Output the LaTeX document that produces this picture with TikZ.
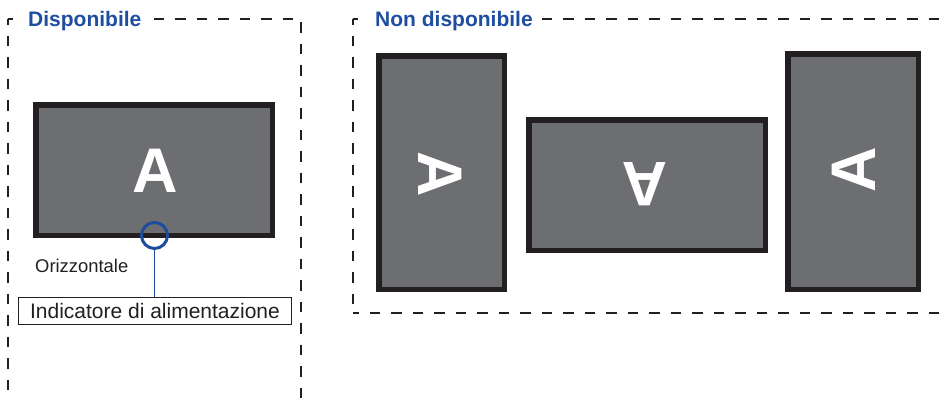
\documentclass[tikz,border=0pt]{standalone}
\usepackage{fontspec}
\setmainfont{Liberation Sans}
\definecolor{dk}{HTML}{231F20}
\definecolor{scr}{HTML}{6D6E71}
\definecolor{ttl}{HTML}{1F4EA0}
\definecolor{led}{HTML}{1D4C9C}
\begin{document}
\begin{tikzpicture}[x=1pt,y=-1pt,
  frame/.style={draw=dk,line width=2.6pt,dash pattern=on 10.5pt off 11pt},
  monitor/.style={draw=dk,fill=scr,line width=5.5pt,rectangle,inner sep=0pt},
  letter/.style={text=white,font=\fontsize{63}{63}\selectfont\bfseries,inner sep=0pt},
  titletext/.style={text=ttl,font=\fontsize{21}{25}\selectfont\bfseries,inner sep=0pt,anchor=base west},
  lbl/.style={text=dk,inner sep=0pt}]
\useasboundingbox (0,0) rectangle (949,400);
\clip (0,0) rectangle (949,400);
% dashed frames
\draw[frame,dash phase=5pt] (8,19) -- (8,410);
\draw[frame,dash phase=5pt] (8,19) -- (301,19) -- (301,410);
\draw[frame,dash phase=5pt] (353,19) -- (353,313);
\draw[frame,dash phase=5pt] (353,19) -- (960,19);
\draw[frame,dash phase=5pt] (353,313) -- (960,313);
% title backgrounds
\fill[white] (13,8) rectangle (146,31);
\fill[white] (358,8) rectangle (537,31);
\node[titletext] (t1) at (28,26.7) {Disponibile};
\node[titletext] (t2) at (375,26.5) {Non disponibile};
% monitors
\node[monitor,minimum width=236.5pt,minimum height=130.5pt] (m0) at (154,170) {};
\node[letter] (a0) at (155,171) {A};
\node[monitor,minimum width=125.5pt,minimum height=233.5pt] (m1) at (441.5,172.5) {};
\node[letter,rotate=-90] (a1) at (440,174) {A};
\node[monitor,minimum width=236.5pt,minimum height=130.5pt] (m2) at (647,185) {};
\node[letter,rotate=180] (a2) at (645,184) {A};
\node[monitor,minimum width=130.5pt,minimum height=235.5pt] (m3) at (853,171.5) {};
\node[letter,rotate=90] (a3) at (854,170) {A};
% power indicator
\node[circle,draw=led,line width=3pt,minimum size=26pt,inner sep=0pt] (led) at (154.5,235.5) {};
\node[lbl,font=\fontsize{18.4}{22}\selectfont,anchor=base west] (oriz) at (35,272) {Orizzontale};
\node[draw=dk,line width=1pt,minimum width=273pt,minimum height=27pt,inner sep=0pt,text=dk,font=\fontsize{21}{25}\selectfont] (ind) at (155,311) {Indicatore di alimentazione};
\draw[led,line width=1.6pt] (led.south) -- (led.south |- ind.north);
\end{tikzpicture}
\end{document}
